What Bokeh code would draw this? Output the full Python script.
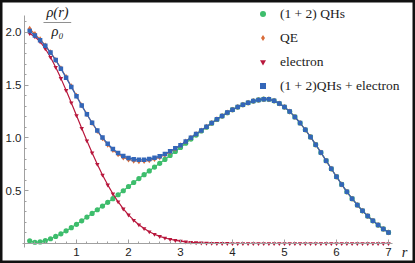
from bokeh.plotting import figure
from bokeh.models import Range1d, SingleIntervalTicker, Label, Legend, LegendItem, BoxAnnotation
from bokeh.embed import file_html
from bokeh.resources import INLINE

r = [0.1, 0.2, 0.3, 0.4, 0.5, 0.6, 0.7, 0.8, 0.9, 1.0,
     1.1, 1.2, 1.3, 1.4, 1.5, 1.6, 1.7, 1.8, 1.9, 2.0,
     2.1, 2.2, 2.3, 2.4, 2.5, 2.6, 2.7, 2.8, 2.9, 3.0,
     3.1, 3.2, 3.3, 3.4, 3.5, 3.6, 3.7, 3.8, 3.9, 4.0,
     4.1, 4.2, 4.3, 4.4, 4.5, 4.6, 4.7, 4.8, 4.9, 5.0,
     5.1, 5.2, 5.3, 5.4, 5.5, 5.6, 5.7, 5.8, 5.9, 6.0,
     6.1, 6.2, 6.3, 6.4, 6.5, 6.6, 6.7, 6.8, 6.9, 7.0]

qhs = [0.025, 0.012, 0.015, 0.027, 0.045, 0.067, 0.092, 0.120, 0.150, 0.182,
       0.215, 0.250, 0.285, 0.320, 0.355, 0.390, 0.425, 0.462, 0.500, 0.540,
       0.578, 0.615, 0.652, 0.688, 0.724, 0.760, 0.797, 0.834, 0.872, 0.910,
       0.950, 0.990, 1.028, 1.066, 1.102, 1.140, 1.175, 1.208, 1.240, 1.268,
       1.293, 1.315, 1.334, 1.350, 1.361, 1.368, 1.366, 1.352, 1.327, 1.293,
       1.250, 1.200, 1.142, 1.078, 1.010, 0.937, 0.862, 0.785, 0.708, 0.633,
       0.560, 0.490, 0.425, 0.365, 0.310, 0.260, 0.215, 0.175, 0.138, 0.105]

electron = [1.990, 1.960, 1.912, 1.846, 1.765, 1.671, 1.565, 1.452, 1.334, 1.213,
            1.092, 0.974, 0.859, 0.751, 0.649, 0.556, 0.471, 0.396, 0.329, 0.271,
            0.221, 0.178, 0.142, 0.112, 0.088, 0.068, 0.052, 0.040, 0.030, 0.022,
            0.016, 0.012, 0.009, 0.006, 0.004, 0.003, 0.002, 0.001, 0.001, 0.000,
            0.000, 0.000, 0.000, 0.000, 0.000, 0.000, 0.000, 0.000, 0.000, 0.000,
            0.000, 0.000, 0.000, 0.000, 0.000, 0.000, 0.000, 0.000, 0.000, 0.000,
            0.000, 0.000, 0.000, 0.000, 0.000, 0.000, 0.000, 0.000, 0.000, 0.000]

total = [2.015, 1.972, 1.927, 1.873, 1.810, 1.738, 1.657, 1.572, 1.484, 1.395,
         1.307, 1.224, 1.144, 1.071, 1.004, 0.946, 0.896, 0.858, 0.829, 0.811,
         0.799, 0.793, 0.794, 0.800, 0.812, 0.828, 0.849, 0.874, 0.902, 0.932,
         0.966, 1.002, 1.037, 1.072, 1.106, 1.143, 1.177, 1.209, 1.241, 1.268,
         1.293, 1.315, 1.334, 1.350, 1.361, 1.368, 1.366, 1.352, 1.327, 1.293,
         1.250, 1.200, 1.142, 1.078, 1.010, 0.937, 0.862, 0.785, 0.708, 0.633,
         0.560, 0.490, 0.425, 0.365, 0.310, 0.260, 0.215, 0.175, 0.138, 0.105]

qe = [2.035, 1.985, 1.935, 1.877, 1.812, 1.740, 1.660, 1.578, 1.490, 1.400,
      1.310, 1.225, 1.142, 1.066, 0.997, 0.937, 0.885, 0.846, 0.816, 0.797,
      0.785, 0.780, 0.781, 0.788, 0.800, 0.818, 0.841, 0.868, 0.898, 0.930,
      0.966, 1.002, 1.037, 1.072, 1.106, 1.143, 1.177, 1.209, 1.241, 1.268,
      1.293, 1.315, 1.334, 1.350, 1.361, 1.368, 1.366, 1.352, 1.327, 1.293,
      1.250, 1.200, 1.142, 1.078, 1.010, 0.937, 0.862, 0.785, 0.708, 0.633,
      0.560, 0.490, 0.425, 0.365, 0.310, 0.260, 0.215, 0.175, 0.138, 0.105]

series_labels = ["(1 + 2) QHs", "QE", "electron", "(1 + 2)QHs + electron"]

GREEN = "#3dbd6c"
ORANGE = "#d96c3a"
RED = "#b8173c"
BLUE = "#3366b8"
AXIS = "#a0a0a0"
TXT = "#222222"

p = figure(width=415, height=263, output_backend="svg", toolbar_location=None,
           x_range=Range1d(-0.4615, 7.519), y_range=Range1d(-0.1896, 2.303),
           min_border_left=0, min_border_right=0, min_border_top=0, min_border_bottom=0,
           background_fill_color="white", border_fill_color="white")
p.outline_line_color = "#111111"
p.outline_line_width = 4
p.grid.visible = False

for ax in (p.xaxis[0], p.yaxis[0]):
    ax.axis_line_color = AXIS
    ax.major_tick_line_color = AXIS
    ax.minor_tick_line_color = AXIS
    ax.major_tick_in = 4
    ax.major_tick_out = 0
    ax.minor_tick_in = 2
    ax.minor_tick_out = 0
    ax.major_label_text_font = "Liberation Sans"
    ax.major_label_text_font_size = "11.5px"
    ax.major_label_text_color = TXT

p.xaxis.ticker = SingleIntervalTicker(interval=1, num_minor_ticks=5)
p.yaxis.ticker = SingleIntervalTicker(interval=0.5, num_minor_ticks=5)
p.xaxis.major_label_overrides = {0: ""}
p.yaxis.major_label_overrides = {0: "", 0.5: "0.5", 1: "1.0", 1.5: "1.5", 2: "2.0"}
p.xaxis.fixed_location = 0
p.yaxis.fixed_location = 0
p.xaxis.bounds = (-0.04, 7.08)
p.yaxis.bounds = (-0.04, 2.16)
p.xaxis.major_label_standoff = 5
p.yaxis.major_label_standoff = 3

p.line(r, qhs, color=GREEN, line_width=1.2)
g = p.scatter(r, qhs, marker="circle", size=5.2, fill_color=GREEN, line_color=None)
p.line(r, qe, color=ORANGE, line_width=1.2)
o = p.scatter(r, qe, marker="diamond", size=6.0, fill_color=ORANGE, line_color=None)
p.line(r, electron, color=RED, line_width=1.2)
e = p.scatter(r, electron, marker="inverted_triangle", size=4.5, fill_color=RED, line_color=None)
p.line(r, total, color=BLUE, line_width=1.2)
b = p.scatter(r, total, marker="square", size=4.5, fill_color=BLUE, line_color=None)

legend = Legend(items=[LegendItem(label=series_labels[0], renderers=[g]),
                       LegendItem(label=series_labels[1], renderers=[o]),
                       LegendItem(label=series_labels[2], renderers=[e]),
                       LegendItem(label=series_labels[3], renderers=[b])],
                location=(255, 167), orientation="vertical",
                background_fill_alpha=0, border_line_color=None,
                padding=0, margin=0, spacing=3,
                glyph_width=15, glyph_height=15, label_height=21, label_standoff=10,
                label_text_font="Liberation Serif", label_text_font_size="13.5px",
                label_text_color=TXT)
p.add_layout(legend)

p.add_layout(Label(x=0.635, y=2.19, text="ρ(r)", text_align="center", text_baseline="middle",
                   text_font="Liberation Serif", text_font_style="italic",
                   text_font_size="14.5px", text_color=TXT))
p.add_layout(BoxAnnotation(left=0.365, right=0.898, bottom=2.091, top=2.098,
                           fill_color=TXT, fill_alpha=1, line_color=None))
p.add_layout(Label(x=0.635, y=2.01, text="ρ₀", text_align="center", text_baseline="middle",
                   text_font="Liberation Serif", text_font_style="italic",
                   text_font_size="14.5px", text_color=TXT))
p.add_layout(Label(x=7.31, y=-0.085, text="r", text_align="center", text_baseline="middle",
                   text_font="Liberation Serif", text_font_style="italic",
                   text_font_size="14.5px", text_color=TXT))

open("out.html", "w").write(file_html(p, INLINE))
